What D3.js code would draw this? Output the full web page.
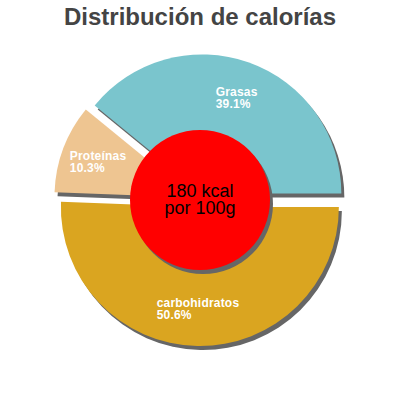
<!DOCTYPE html>
<html>
<head>
<meta charset="utf-8">
<script src="https://cdn.jsdelivr.net/npm/d3@7"></script>
<style>
  body { margin: 0; background: #fff; }
  text { font-family: "Liberation Sans", Arial, sans-serif; }
</style>
</head>
<body>
<svg id="chart" width="400" height="400"></svg>
<script>
// Data
var categories = ["carbohidratos", "Proteínas", "Grasas"];
var values = [50.6, 10.3, 39.1];
var colors = ["#DAA520", "#EEC591", "#7AC5CD"];
var title = "Distribución de calorías";
var centerLines = ["180 kcal", "por 100g"];

// Dimensions
var cx = 200, cy = 200;
var radius = 139;
var holeRadius = 70;
var sliceOffset = 7;
var labelRadius = 102;
var shadowDx = 3, shadowDy = 4;

var svg = d3.select("#chart");

svg.append("text")
  .attr("x", 200)
  .attr("y", 25)
  .attr("text-anchor", "middle")
  .attr("font-size", 24)
  .attr("font-weight", "bold")
  .attr("fill", "#444")
  .text(title);

var slices = categories.map(function(c, i) {
  return { name: c, value: values[i], color: colors[i] };
});

var pie = d3.pie()
  .sort(null)
  .value(function(d) { return d.value; })
  .startAngle(Math.PI / 2)
  .endAngle(Math.PI / 2 + 2 * Math.PI);

var arc = d3.arc().innerRadius(0).outerRadius(radius);

var arcs = pie(slices);

// offset of each slice along its bisector
function shift(d) {
  var a = (d.startAngle + d.endAngle) / 2;
  return [Math.sin(a) * sliceOffset, -Math.cos(a) * sliceOffset];
}

var g = svg.append("g").attr("transform", "translate(" + cx + "," + cy + ")");

// shadows first
g.selectAll("path.shadow")
  .data(arcs)
  .enter()
  .append("path")
  .attr("class", "shadow")
  .attr("d", arc)
  .attr("fill", "#666")
  .attr("transform", function(d) {
    var s = shift(d);
    return "translate(" + (s[0] + shadowDx) + "," + (s[1] + shadowDy) + ")";
  });

g.selectAll("path.slice")
  .data(arcs)
  .enter()
  .append("path")
  .attr("class", "slice")
  .attr("d", arc)
  .attr("fill", function(d) { return d.data.color; })
  .attr("transform", function(d) {
    var s = shift(d);
    return "translate(" + s[0] + "," + s[1] + ")";
  });

// labels
arcs.forEach(function(d) {
  var s = shift(d);
  var a = (d.startAngle + d.endAngle) / 2;
  var lx = s[0] + Math.sin(a) * labelRadius;
  var ly = s[1] - Math.cos(a) * labelRadius;

  var t = g.append("text")
    .attr("fill", "#fff")
    .attr("font-size", 12)
    .attr("font-weight", "bold")
    .attr("letter-spacing", 0.2);
  var l1 = t.append("tspan").attr("y", ly - 1.5).text(d.data.name);
  var l2 = t.append("tspan").attr("y", ly + 10.5).text(d.data.value.toFixed(1) + "%");
  var w = Math.max(l1.node().getComputedTextLength(), l2.node().getComputedTextLength());
  l1.attr("x", lx - w / 2);
  l2.attr("x", lx - w / 2);
});

// center disc
g.append("circle")
  .attr("cx", shadowDx)
  .attr("cy", shadowDy)
  .attr("r", holeRadius)
  .attr("fill", "#666");

g.append("circle")
  .attr("r", holeRadius)
  .attr("fill", "#FF0000");

g.selectAll("text.center")
  .data(centerLines)
  .enter()
  .append("text")
  .attr("class", "center")
  .attr("text-anchor", "middle")
  .attr("font-size", 18)
  .attr("fill", "#000")
  .attr("y", function(d, i) { return -3 + i * 17; })
  .text(function(d) { return d; });
</script>
</body>
</html>
